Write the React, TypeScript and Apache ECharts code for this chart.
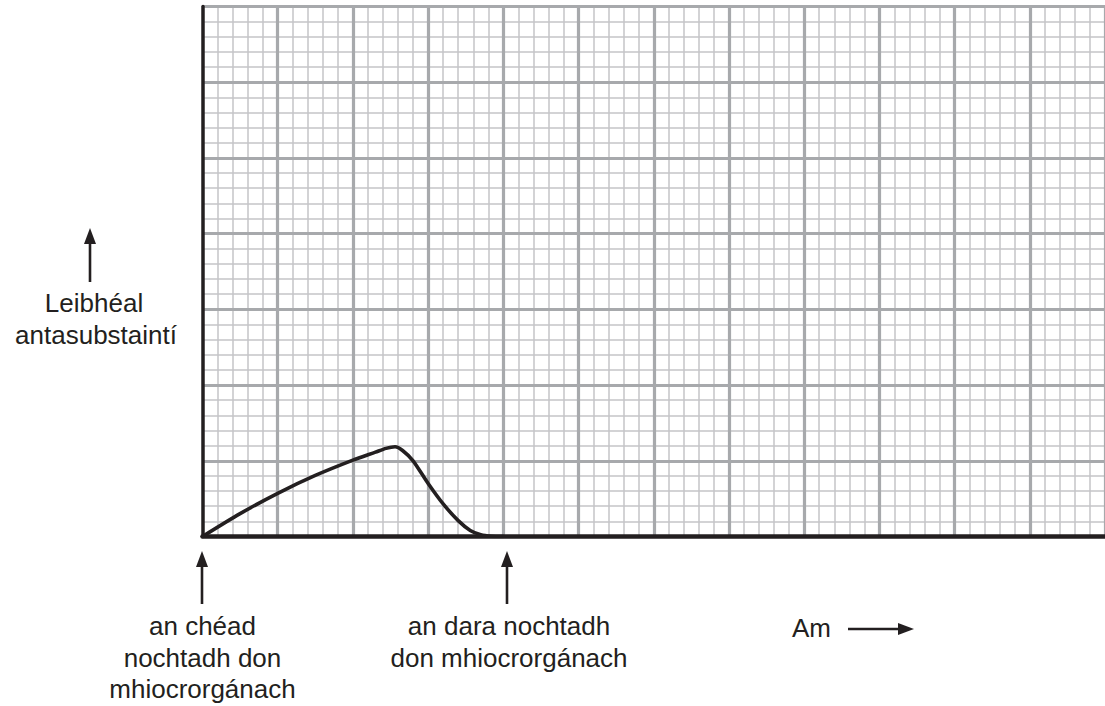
import React, { useEffect, useRef } from "react";
import * as echarts from "echarts";

// Data in grid units (1 unit = one small square)
const timeValues = [0, 2.5, 5, 7.5, 10, 11.5, 12.2, 12.8, 13.3, 14, 15, 16, 17, 17.8, 18.5, 19.2, 20];
const antibodyValues = [0, 1.51, 2.85, 4.03, 5.04, 5.57, 5.82, 5.93, 5.68, 5.0, 3.5, 2.15, 1.05, 0.4, 0.12, 0.02, 0];

const xMax = 60;
const yMax = 35;
const majorStep = 5;

const yLabelLines = ["Leibhéal", "antasubstaintí"];
const firstExposureLines = ["an chéad", "nochtadh don", "mhiocrorgánach"];
const secondExposureLines = ["an dara nochtadh", "don mhiocrorgánach"];
const xLabel = "Am";

const INK = "#231f20";
const MAJOR = "#a7a9ac";
const MINOR = "#c4c5c7";
const FONT = "'Liberation Sans', Arial, Helvetica, sans-serif";

function textEl(text: string, x: number, baseline: number, align: string) {
  return {
    type: "text",
    x,
    y: baseline - 9,
    silent: true,
    style: {
      text,
      fill: INK,
      font: `26px ${FONT}`,
      align,
      verticalAlign: "middle",
    },
  };
}

function upArrow(x: number, tip: number, bottom: number) {
  return [
    {
      type: "line",
      silent: true,
      shape: { x1: x, y1: tip + 10, x2: x, y2: bottom },
      style: { stroke: INK, lineWidth: 2.6 },
    },
    {
      type: "polygon",
      silent: true,
      shape: { points: [[x, tip], [x - 6, tip + 16], [x + 6, tip + 16]] },
      style: { fill: INK },
    },
  ];
}

export default function App() {
  const ref = useRef<HTMLDivElement>(null);

  useEffect(() => {
    if (!ref.current) return;
    const chart = echarts.init(ref.current, null, { renderer: "svg" });
    const seriesData = timeValues.map((t, i) => [t, antibodyValues[i]]);

    const hidden = {
      axisLabel: { show: false },
      axisTick: { show: false },
    };

    const graphics: any[] = [];
    graphics.push(...upArrow(90, 228, 282));
    graphics.push(textEl(yLabelLines[0], 94, 312, "center"));
    graphics.push(textEl(yLabelLines[1], 96, 344, "center"));
    graphics.push(...upArrow(202, 551, 604));
    firstExposureLines.forEach((t, i) => graphics.push(textEl(t, 202.5, 635 + i * 31.5, "center")));
    graphics.push(...upArrow(507, 551, 604));
    secondExposureLines.forEach((t, i) => graphics.push(textEl(t, 509, 635 + i * 31.5, "center")));
    graphics.push(textEl(xLabel, 792, 637, "left"));
    graphics.push({
      type: "line",
      silent: true,
      shape: { x1: 848, y1: 629, x2: 903, y2: 629 },
      style: { stroke: INK, lineWidth: 2.6 },
    });
    graphics.push({
      type: "polygon",
      silent: true,
      shape: { points: [[914, 629], [898, 623], [898, 635]] },
      style: { fill: INK },
    });

    chart.setOption({
      animation: false,
      backgroundColor: "#ffffff",
      grid: { left: 202.5, top: 6.5, width: 907.5, height: 530, containLabel: false },
      xAxis: [
        {
          type: "value", min: 0, max: xMax, interval: majorStep, z: 0, ...hidden,
          axisLine: { show: false },
          splitLine: { show: false },
          minorTick: { show: false, splitNumber: 5 },
          minorSplitLine: { show: true, lineStyle: { color: MINOR, width: 1.5 } },
        },
        {
          type: "value", min: 0, max: xMax, interval: majorStep, z: 1, ...hidden,
          axisLine: { show: false },
          splitLine: { show: true, showMinLine: false, lineStyle: { color: MAJOR, width: 3.2 } },
        },
        {
          type: "value", min: 0, max: xMax, interval: majorStep, z: 3, position: "bottom", ...hidden,
          axisLine: { show: true, onZero: false, lineStyle: { color: INK, width: 4.5 } },
          splitLine: { show: false },
        },
      ],
      yAxis: [
        {
          type: "value", min: 0, max: yMax, interval: majorStep, z: 0, ...hidden,
          axisLine: { show: false },
          splitLine: { show: false },
          minorTick: { show: false, splitNumber: 5 },
          minorSplitLine: { show: true, lineStyle: { color: MINOR, width: 1.5 } },
        },
        {
          type: "value", min: 0, max: yMax, interval: majorStep, z: 1, position: "left", ...hidden,
          axisLine: { show: false },
          splitLine: { show: true, showMinLine: false, lineStyle: { color: MAJOR, width: 3.2 } },
        },
        {
          type: "value", min: 0, max: yMax, interval: majorStep, z: 3, position: "left", ...hidden,
          axisLine: { show: true, onZero: false, lineStyle: { color: INK, width: 3.5 } },
          splitLine: { show: false },
        },
      ],
      series: [
        {
          type: "line",
          xAxisIndex: 0,
          yAxisIndex: 0,
          data: seriesData,
          smooth: 0.25,
          showSymbol: false,
          symbol: "none",
          z: 2,
          lineStyle: { color: INK, width: 3.6, cap: "round", join: "round" },
        },
      ],
      graphic: graphics,
    });

    return () => chart.dispose();
  }, []);

  return (
    <div
      ref={ref}
      style={{ position: "fixed", left: 0, top: 0, width: 1105, height: 706, background: "#fff" }}
    />
  );
}
